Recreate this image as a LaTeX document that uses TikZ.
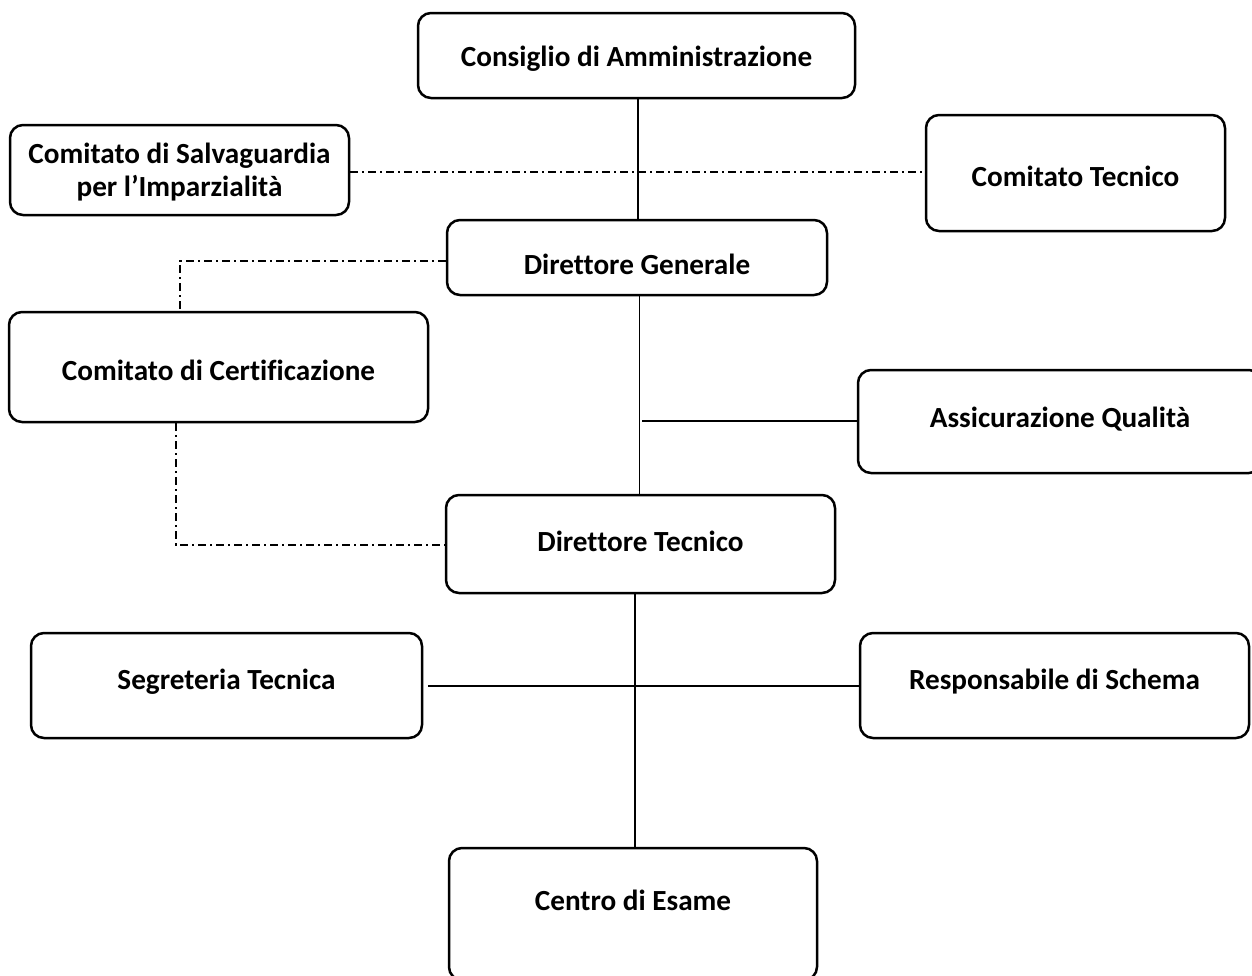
\documentclass[tikz,border=0pt]{standalone}
\usepackage{fontspec}
\setmainfont{Carlito}[Ligatures=NoCommon]
\begin{document}
\begin{tikzpicture}[x=0.5pt,y=-0.5pt,
  box/.style={draw=black,line width=1.25pt,rounded corners=6.5pt,fill=white,inner sep=0pt},
  lbl/.style={font=\fontsize{14.6}{16.5}\selectfont\bfseries,inner sep=0pt,anchor=base,align=center},
  conn/.style={draw=black,line width=0.85pt},
  dd/.style={draw=black,line width=0.85pt,dash pattern=on 4pt off 2pt on 1pt off 2pt}]
\clip (0,0) rectangle (1252,975);
\fill[white] (0,0) rectangle (1252,975);
% boxes
\node[box,minimum width=218.5pt,minimum height=42.5pt] (cda) at (636.5,55.5) {};
\node[box,minimum width=169.5pt,minimum height=45pt] (csi) at (179.5,170) {};
\node[box,minimum width=149.5pt,minimum height=58pt] (ct) at (1075.5,173) {};
\node[box,minimum width=190pt,minimum height=37.5pt] (dg) at (637,257.5) {};
\node[box,minimum width=209.5pt,minimum height=55pt] (cc) at (218.5,367) {};
\node[box,minimum width=202pt,minimum height=51.5pt] (aq) at (1060,421.5) {};
\node[box,minimum width=194.5pt,minimum height=49pt] (dt) at (640.5,544) {};
\node[box,minimum width=195.5pt,minimum height=52.5pt] (st) at (226.5,685.5) {};
\node[box,minimum width=194.5pt,minimum height=52.5pt] (rs) at (1054.5,685.5) {};
\node[box,minimum width=184pt,minimum height=66pt] (ce) at (633,914) {};
% labels
\node[lbl] (cdat) at (636.5,66) {Consiglio di Amministrazione};
\node[lbl,anchor=center] (csit) at (179.5,172) {Comitato di Salvaguardia\\per l’Imparzialità};
\node[lbl] (ctt) at (1075.5,186) {Comitato Tecnico};
\node[lbl] (dgt) at (637,274) {Direttore Generale};
\node[lbl] (cct) at (218.5,380) {Comitato di Certificazione};
\node[lbl] (aqt) at (1060,427) {Assicurazione Qualità};
\node[lbl] (dtt) at (640.5,551) {Direttore Tecnico};
\node[lbl] (stt) at (226.5,689) {Segreteria Tecnica};
\node[lbl] (rst) at (1054.5,689) {Responsabile di Schema};
\node[lbl] (cet) at (633,910) {Centro di Esame};
% helper coordinates
\coordinate (k1) at (180,261);
\coordinate (k2) at (176,545);
\coordinate (aqj) at (642,421);
\coordinate (vx1) at (638,0);
\coordinate (vx2) at (639.5,0);
\coordinate (vx3) at (635,0);
\coordinate (hy) at (0,686);
% solid connectors
\draw[conn] (cda.south -| vx1) -- (dg.north -| vx1);
\draw[conn] (dg.south -| vx2) -- ([yshift=-1pt]dt.north -| vx2);
\draw[conn] (aqj) -- (aqj -| aq.west);
\draw[conn] (dt.south -| vx3) -- (ce.north -| vx3);
\draw[conn] ([xshift=2.5pt]st.east |- hy) -- (rs.west |- hy);
% dash-dot connectors
\draw[dd] ([yshift=-1pt]csi.east) -- ([yshift=-1pt]csi.east -| ct.west);
\draw[dd] (dg.west |- k1) -- (k1) -- (k1 |- cc.north);
\draw[dd] (k2 |- cc.south) -- (k2) -- (k2 -| dt.west);
\end{tikzpicture}
\end{document}
